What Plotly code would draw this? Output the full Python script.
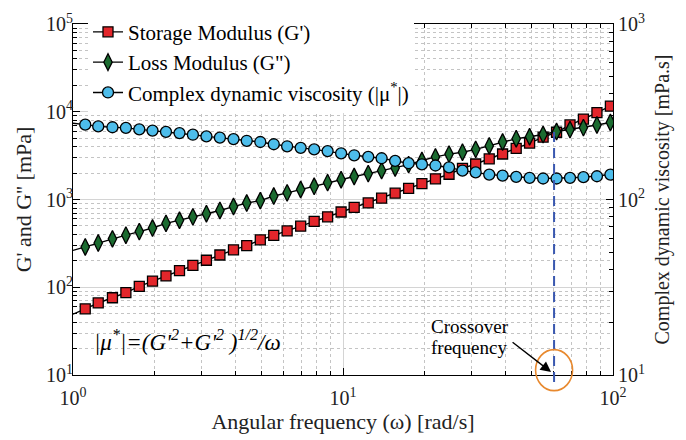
import math
import plotly.graph_objects as go

# ---------------- data ----------------
omega = [1.11, 1.24, 1.40, 1.57, 1.76, 1.97, 2.21, 2.48, 2.78, 3.12,
         3.50, 3.93, 4.40, 4.94, 5.54, 6.21, 6.97, 7.82, 8.77, 9.84,
         11.0, 12.4, 13.9, 15.6, 17.5, 19.6, 22.0, 24.7, 27.7, 31.0,
         34.8, 39.0, 43.8, 49.1, 55.1, 61.8, 69.3, 77.7, 87.2, 97.8]

storage_modulus = [56.7, 66.2, 75.9, 86.9, 102.5, 117.5, 134.6, 154.5, 178, 203,
                   233, 267, 298, 347, 390, 438, 496, 563, 635, 720,
                   814, 914, 1035, 1181, 1340, 1520, 1720, 1940, 2260, 2540,
                   2900, 3300, 3820, 4400, 5140, 5840, 7070, 8240, 9750, 11600]

loss_modulus = [288, 319, 356, 392, 431, 473, 534, 580, 634, 689,
                750, 831, 911, 971, 1095, 1191, 1300, 1414, 1555, 1680,
                1828, 1974, 2133, 2286, 2500, 2780, 3060, 3290, 3460, 3730,
                4080, 4520, 4930, 5190, 5500, 5950, 6260, 6600, 7070, 7550]

complex_viscosity = [267, 261, 258, 256, 251, 247, 243, 239, 234, 229,
                     225, 221, 216, 212.6, 206.5, 201, 197, 193, 188.7, 183.2,
                     178.6, 175, 171.8, 166, 161, 158.5, 156.2, 152.3, 146, 142.8,
                     138.7, 136.8, 134.6, 132.9, 131.7, 131.7, 132.9, 134, 135.7, 138.7]

# the fitted lines start at the left axis (omega = 1)
omega_edge = 1.0
storage_edge = 49.3
loss_edge = 263
viscosity_edge = 272

crossover_omega = 60.5
crossover_modulus = 6400

x_ticks = [1, 10, 100]
x_ticktext = ["10<sup>0</sup>", "10<sup>1</sup>", "10<sup>2</sup>"]
y_ticks = [10, 100, 1000, 10000, 100000]
y_ticktext = ["10<sup>1</sup>", "10<sup>2</sup>", "10<sup>3</sup>", "10<sup>4</sup>", "10<sup>5</sup>"]
y2_ticks = [10, 100, 1000]
y2_ticktext = ["10<sup>1</sup>", "10<sup>2</sup>", "10<sup>3</sup>"]

# ---------------- styling ----------------
FONT = "Liberation Serif"
W, H = 686, 440
ML, MR, MT, MB = 73, 73, 16, 65
PW, PH = W - ML - MR, H - MT - MB


def px_x(p):
    return (p - ML) / PW


def px_y(p):
    return (H - MB - p) / PH


def minor_vals(lo, hi):
    vals = []
    for d in range(lo, hi):
        for k in range(2, 10):
            vals.append(k * 10 ** d)
    return vals


line_style = dict(color="black", width=1.4)
sq_marker = dict(symbol="square", size=10, color="#E3262B", line=dict(color="black", width=1.3))
di_marker = dict(symbol="diamond-tall", size=12, color="#1B6B30", line=dict(color="black", width=1.3))
ci_marker = dict(symbol="circle", size=11, color="#4DBDEB", line=dict(color="black", width=1.3))

fig = go.Figure()

# line extensions to the left axis
fig.add_trace(go.Scatter(x=[omega_edge, omega[0]], y=[storage_edge, storage_modulus[0]],
                         mode="lines", line=line_style, showlegend=False, hoverinfo="skip"))
fig.add_trace(go.Scatter(x=[omega_edge, omega[0]], y=[loss_edge, loss_modulus[0]],
                         mode="lines", line=line_style, showlegend=False, hoverinfo="skip"))
fig.add_trace(go.Scatter(x=[omega_edge, omega[0]], y=[viscosity_edge, complex_viscosity[0]],
                         mode="lines", line=line_style, showlegend=False, hoverinfo="skip",
                         yaxis="y2"))

fig.add_trace(go.Scatter(x=omega, y=storage_modulus, mode="lines+markers",
                         name="Storage Modulus (G')", line=line_style, marker=sq_marker))
fig.add_trace(go.Scatter(x=omega, y=loss_modulus, mode="lines+markers",
                         name='Loss Modulus (G")', line=line_style, marker=di_marker))
fig.add_trace(go.Scatter(x=omega, y=complex_viscosity, mode="lines+markers", yaxis="y2",
                         name="Complex dynamic viscosity (|μ<sup>*</sup>|)",
                         line=line_style, marker=ci_marker))

axis_common = dict(
    type="log",
    ticks="inside",
    ticklen=7,
    tickwidth=1,
    tickcolor="black",
    showline=True,
    linecolor="black",
    linewidth=1,
    tickfont=dict(family=FONT, size=20, color="#222"),
    zeroline=False,
)

fig.update_layout(
    width=W, height=H,
    margin=dict(l=ML, r=MR, t=MT, b=MB),
    paper_bgcolor="white",
    plot_bgcolor="white",
    font=dict(family=FONT, color="black"),
    xaxis=dict(
        **axis_common,
        range=[0, 2],
        tickmode="array", tickvals=x_ticks, ticktext=x_ticktext,
        mirror="ticks",
        ticklabelstandoff=5,
        showgrid=True, gridcolor="#d4d4d4", gridwidth=1,
        minor=dict(tickmode="array", tickvals=minor_vals(0, 2), ticks="inside", ticklen=4,
                   tickcolor="black", showgrid=True, gridcolor="#c4c4c4", griddash="dot",
                   gridwidth=1),
        title=dict(text="Angular frequency (ω) [rad/s]", font=dict(family=FONT, size=22, color="#222"),
                   standoff=4),
    ),
    yaxis=dict(
        **axis_common,
        range=[1, 5],
        tickmode="array", tickvals=y_ticks, ticktext=y_ticktext,
        mirror=True,
        ticklabelstandoff=-5,
        showgrid=True, gridcolor="#d4d4d4", gridwidth=1,
        minor=dict(tickmode="array", tickvals=minor_vals(1, 5), ticks="inside", ticklen=4,
                   tickcolor="black", showgrid=True, gridcolor="#c4c4c4", griddash="dot",
                   gridwidth=1),
        title=dict(text="G' and G'' [mPa]", font=dict(family=FONT, size=22, color="#222"),
                   standoff=8),
    ),
    yaxis2=dict(
        **axis_common,
        overlaying="y",
        side="right",
        range=[1, 3],
        tickmode="array", tickvals=y2_ticks, ticktext=y2_ticktext,
        showgrid=False,
        minor=dict(tickmode="array", tickvals=minor_vals(1, 3), ticks="inside", ticklen=4,
                   tickcolor="black", showgrid=False),
        title=dict(text="Complex dynamic viscosity [mPa.s]", font=dict(family=FONT, size=20, color="#222"),
                   standoff=10),
    ),
    legend=dict(
        x=px_x(88), y=1.035, xanchor="left", yanchor="top",
        bgcolor="white", borderwidth=0,
        font=dict(family=FONT, size=21, color="black"),
        tracegroupgap=0,
    ),
    showlegend=True,
)

# crossover marker: dashed vertical line, orange ellipse, arrow and label
cx = math.log10(crossover_omega) / 2
cy = (math.log10(crossover_modulus) - 1) / 4
fig.add_shape(type="line", xref="paper", yref="paper", x0=cx, x1=cx, y0=-0.02, y1=cy,
              line=dict(color="#3A58B0", width=2, dash="10px,6px"))
fig.add_shape(type="circle", xref="paper", yref="paper",
              x0=cx - 18.5 / PW, x1=cx + 18.5 / PW, y0=px_y(391), y1=px_y(349),
              line=dict(color="#E8892E", width=1.6))

fig.add_annotation(xref="paper", yref="paper", x=cx - 3 / PW, y=px_y(372),
                   ax=-40, ay=-31, text="", showarrow=True,
                   arrowhead=2, arrowsize=1.5, arrowwidth=1.4, arrowcolor="black")
fig.add_annotation(xref="paper", yref="paper", x=px_x(429), y=px_y(325),
                   xanchor="left", yanchor="middle", showarrow=False,
                   text="Crossover", font=dict(family=FONT, size=19, color="black"))
fig.add_annotation(xref="paper", yref="paper", x=px_x(429), y=px_y(347),
                   xanchor="left", yanchor="middle", showarrow=False,
                   text="frequency", font=dict(family=FONT, size=19, color="black"))
fig.add_annotation(xref="paper", yref="paper", x=px_x(92), y=px_y(340),
                   xanchor="left", yanchor="middle", showarrow=False,
                   text="<i>|μ<sup>*</sup>|=(G'<sup>2</sup>+G'<sup>2</sup> )<sup>1/2</sup>/ω</i>",
                   font=dict(family=FONT, size=23, color="black"))

fig.write_html("out.html")
